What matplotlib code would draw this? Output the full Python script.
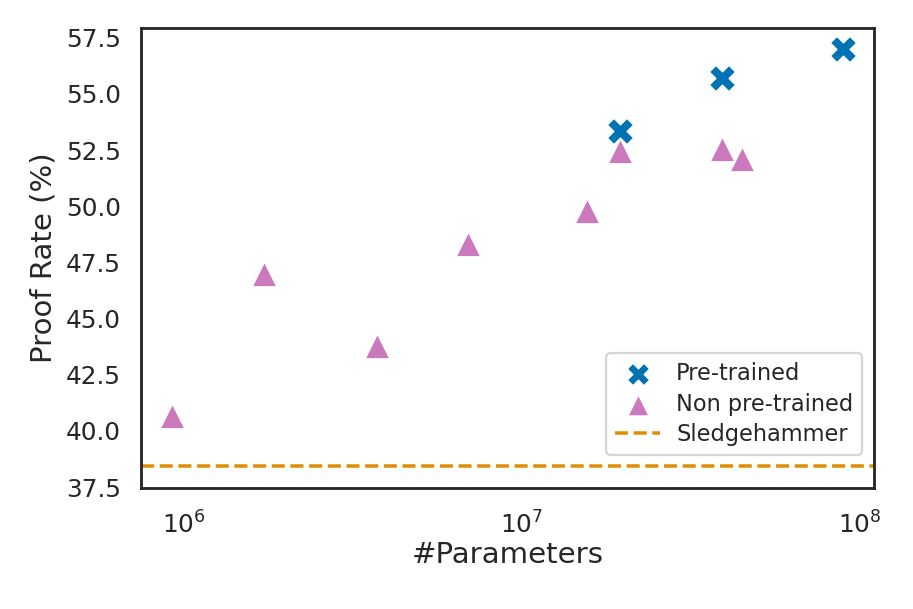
import matplotlib.pyplot as plt
import seaborn as sns

# values
pre_params = [1.95e7, 3.9e7, 8.9e7]
pre_rate = [53.35, 55.7, 57.0]

non_params = [9.2e5, 1.72e6, 3.71e6, 6.9e6, 1.56e7, 1.95e7, 3.9e7, 4.48e7]
non_rate = [40.65, 47.0, 43.8, 48.3, 49.8, 52.45, 52.55, 52.1]

sledgehammer = 38.43

sns.set_theme(style="white", context="paper")
plt.rcParams['font.family'] = ['DejaVu Sans']
pal = sns.color_palette("colorblind")

fig, ax = plt.subplots(figsize=(4.5, 3), dpi=203)
fig.subplots_adjust(left=0.154, right=0.957, top=0.954, bottom=0.199)

ax.scatter(pre_params, pre_rate, marker="X", s=85, color=pal[0],
           edgecolor="white", linewidth=0.4, label="Pre-trained", zorder=3)
ax.scatter(non_params, non_rate, marker="^", s=75, color=pal[4],
           edgecolor="white", linewidth=0.4, label="Non pre-trained", zorder=2)
ax.axhline(sledgehammer, color=pal[1], linestyle="--", linewidth=1.25,
           label="Sledgehammer")

ax.set_xscale("log")
ax.set_xlim(10**5.871, 10**8.043)
ax.set_ylim(37.47, 57.93)
ax.set_xlabel("#Parameters", fontsize=10.4, labelpad=1)
ax.set_ylabel("Proof Rate (%)", fontsize=10.4, labelpad=3)
ax.tick_params(axis="both", labelsize=8.8, colors=".15")
ax.tick_params(axis="y", pad=2.2)
for s in ax.spines.values():
    s.set_color(".15")
    s.set_linewidth(1.0)

ax.legend(loc="lower right", bbox_to_anchor=(0.9836, 0.0717), borderaxespad=0,
          fontsize=8, markerscale=0.85, labelspacing=0.32, handletextpad=0.7)
fig.savefig("out.png")
